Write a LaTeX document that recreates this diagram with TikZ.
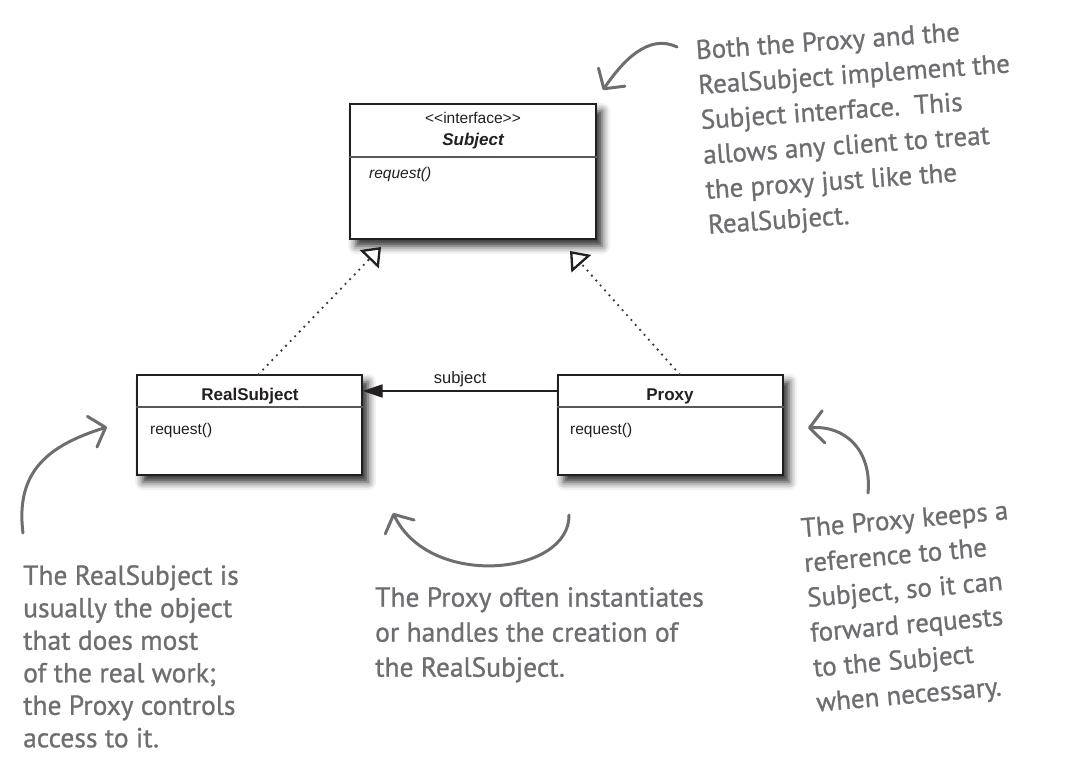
\documentclass[tikz,border=0pt]{standalone}
\usepackage{fontspec}
\setmainfont{Liberation Sans}
\newfontfamily\notefont[FakeBold=0.9]{PT Sans}
\usetikzlibrary{arrows.meta,calc,shadows.blur}
\definecolor{ink}{HTML}{231F20}
\definecolor{pencil}{HTML}{6D6E71}
\definecolor{dotgray}{HTML}{3A3A3C}
\tikzset{
  umlbox/.style={draw=ink, line width=1.4pt, fill=white, inner sep=0pt,
    blur shadow={shadow xshift=6pt, shadow yshift=-7pt, shadow blur radius=8pt, shadow opacity=85}},
  divider/.style={draw=ink!75, line width=1.7pt},
  classname/.style={anchor=base, inner sep=0pt, font=\fontsize{17}{20}\selectfont\bfseries, text=ink},
  method/.style={anchor=base west, inner sep=0pt, font=\fontsize{15.5}{18}\selectfont, text=ink},
  realizes/.style={dotgray, line width=2.6pt, line cap=round, dash pattern=on 0pt off 6.6pt,
    -{Triangle[open, length=17pt, width=26pt, line width=2.3pt, fill=white, color=ink]}},
  note/.style={anchor=north west, inner sep=0pt, align=left, text=pencil,
    font=\notefont\fontsize{27}{35}\selectfont},
  pointer/.style={pencil, line width=3pt, line cap=round,
    -{Straight Barb[length=14pt, width=32pt, line width=3pt, round]}}
}
\begin{document}
\begin{tikzpicture}[x=1pt, y=-1pt]
  \useasboundingbox (0,0) rectangle (1067,773);

  % the three classes
  \node[umlbox, minimum width=246pt, minimum height=135pt] (subject) at (473,171.5) {};
  \node[umlbox, minimum width=225pt, minimum height=100pt] (realsubject) at (249.5,425) {};
  \node[umlbox, minimum width=225pt, minimum height=100pt] (proxy) at (670.5,425) {};

  \draw[divider] (subject.west |- 0,157) -- (subject.east |- 0,157);
  \draw[divider] (realsubject.west |- 0,407) -- (realsubject.east |- 0,407);
  \draw[divider] (proxy.west |- 0,407) -- (proxy.east |- 0,407);

  \node[classname, font=\fontsize{15.5}{18}\selectfont] (stereo) at (473,124) {{<}{<}interface{>}{>}};
  \node[classname, font=\fontsize{17}{20}\selectfont\bfseries\itshape] (subjectname) at (473,146) {Subject};
  \node[method, font=\fontsize{15.5}{18}\selectfont\itshape] (subjectop) at (369,178) {request()};

  \node[classname] (realname) at (250,400) {RealSubject};
  \node[method] (realop) at (150,434) {request()};

  \node[classname] (proxyname) at (670,400) {Proxy};
  \node[method] (proxyop) at (570,434) {request()};

  % connectors
  \coordinate (realtip) at (381,247);
  \coordinate (proxytip) at (570,251);
  \draw[realizes] ($(realsubject.north west)!0.54!(realsubject.north east)$) -- (realtip);
  \draw[realizes] ($(proxy.north west)!0.54!(proxy.north east)$) -- (proxytip);

  \draw[ink, line width=2.2pt, -{Triangle[length=20pt, width=13pt]}] (proxy.west |- 0,391) -- (realsubject.east |- 0,391)
    node[midway, above=0pt, text=ink, font=\fontsize{16.5}{19}\selectfont] (assoc) {subject};

  % notes
  \node[note, rotate=4] (bothnote) at (695,40) {Both the Proxy and the\\RealSubject implement the\\Subject interface.\ \ This\\allows any client to treat\\the proxy just like the\\RealSubject.};
  \node[note, font=\notefont\fontsize{27.5}{32.5}\selectfont] (realnote) at (23,565) {The RealSubject is\\usually the object\\that does most\\of the real work;\\the Proxy controls\\access to it.};
  \node[note, font=\notefont\fontsize{27.5}{35}\selectfont] (createnote) at (375,587) {The Proxy often instantiates\\or handles the creation of\\the RealSubject.};
  \node[note, rotate=5] (refnote) at (800,518) {The Proxy keeps a\\reference to the\\Subject, so it can\\forward requests\\to the Subject\\when necessary.};

  % pointers
  \coordinate (bothstart) at (677,47);
  \coordinate (bothend) at (603,90);
  \coordinate (realstart) at (23,533);
  \coordinate (realend) at (107,427);
  \coordinate (createstart) at (569,515);
  \coordinate (createend) at (393,513);
  \coordinate (refstart) at (868,493);
  \coordinate (refend) at (808,428);
  \draw[pointer] (bothstart) .. controls (648,33) and (622,62) .. (bothend);
  \draw[pointer] (realstart) .. controls (15,470) and (50,445) .. (realend);
  \draw[pointer] (createstart) .. controls (570,575) and (430,590) .. (createend);
  \draw[pointer] (refstart) .. controls (872,450) and (845,425) .. (refend);
\end{tikzpicture}
\end{document}
